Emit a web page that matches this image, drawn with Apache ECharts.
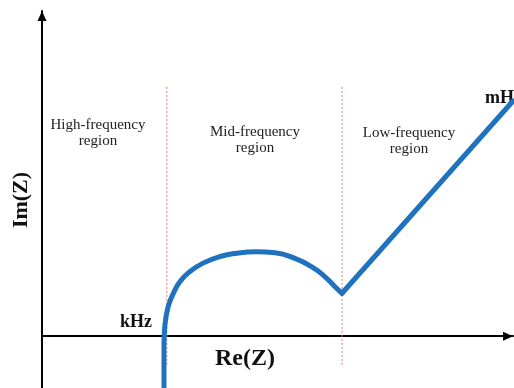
<!DOCTYPE html>
<html>
<head>
<meta charset="utf-8">
<script src="https://cdn.jsdelivr.net/npm/echarts@6/dist/echarts.min.js"></script>
<style>
  html, body { margin: 0; padding: 0; background: #fff; }
  #chart { width: 514px; height: 388px; }
</style>
</head>
<body>
<div id="chart"></div>
<script>
// Nyquist sketch: inductive tail, charge-transfer arc, diffusion line
const arcRe = [25.9, 25.9, 26.1, 26.8, 27.9, 29.3, 31.4, 34.2, 37.8, 41.3, 45.6, 49.5, 53.7, 57.3, 60.1, 62.2, 63.7];
const arcIm = [-11, -2, 2.4, 6.3, 9.1, 11.6, 13.7, 15.5, 16.9, 17.6, 17.9, 17.7, 16.5, 14.7, 12.6, 10.5, 9.1];
const tailRe = [63.7, 100];
const tailIm = [9.1, 49.9];
const boundaryRe = [26.5, 63.7];
const boundaryIm = [52.9, -6.5];
const regionNames = ['High-frequency\nregion', 'Mid-frequency\nregion', 'Low-frequency\nregion'];
const freqMarks = ['kHz', 'mHz'];
const axisNames = ['Re(Z)', 'Im(Z)'];

const pair = (xs, ys) => xs.map((x, i) => [x, ys[i]]);

const curveColor = '#1e72be';
const serif = '"Liberation Serif", "DejaVu Serif", serif';

const boundarySeries = boundaryRe.map(x => ({
  type: 'line',
  data: [[x, boundaryIm[0]], [x, boundaryIm[1]]],
  showSymbol: false,
  silent: true,
  lineStyle: { color: '#ee7575', width: 1, type: [2, 2] },
  z: 1
}));

const chart = echarts.init(document.getElementById('chart'));
chart.setOption({
  animation: false,
  backgroundColor: '#fff',
  grid: { left: 42, right: 1, top: 11, bottom: 0 },
  xAxis: {
    type: 'value', min: 0, max: 100,
    axisLine: {
      onZero: true,
      symbol: ['none', 'triangle'], symbolSize: [9, 10], symbolOffset: [0, -5],
      lineStyle: { color: '#000', width: 2 }
    },
    axisTick: { show: false }, axisLabel: { show: false }, splitLine: { show: false }
  },
  yAxis: {
    type: 'value', min: -11, max: 69,
    axisLine: {
      show: true,
      symbol: ['none', 'triangle'], symbolSize: [9, 10], symbolOffset: [0, -5],
      lineStyle: { color: '#000', width: 2 }
    },
    axisTick: { show: false }, axisLabel: { show: false }, splitLine: { show: false }
  },
  series: [
    ...boundarySeries,
    {
      type: 'line',
      data: pair(arcRe, arcIm),
      smooth: 0.5,
      showSymbol: false,
      lineStyle: { color: curveColor, width: 5, cap: 'round' },
      z: 3
    },
    {
      type: 'line',
      data: pair(tailRe, tailIm),
      showSymbol: false,
      lineStyle: { color: curveColor, width: 5, cap: 'round' },
      z: 3
    }
  ],
  graphic: [
    { type: 'text', x: 98, y: 133, style: { text: regionNames[0], font: '15px ' + serif, fill: '#222', align: 'center', verticalAlign: 'middle', lineHeight: 16 } },
    { type: 'text', x: 255, y: 140, style: { text: regionNames[1], font: '15px ' + serif, fill: '#222', align: 'center', verticalAlign: 'middle', lineHeight: 16 } },
    { type: 'text', x: 409, y: 141, style: { text: regionNames[2], font: '15px ' + serif, fill: '#222', align: 'center', verticalAlign: 'middle', lineHeight: 16 } },
    { type: 'text', x: 120, y: 322, style: { text: freqMarks[0], font: 'bold 18px ' + serif, fill: '#111', align: 'left', verticalAlign: 'middle' } },
    { type: 'text', x: 485, y: 98, style: { text: freqMarks[1], font: 'bold 18px ' + serif, fill: '#111', align: 'left', verticalAlign: 'middle' } },
    { type: 'text', x: 245, y: 359, style: { text: axisNames[0], font: 'bold 24px ' + serif, fill: '#111', align: 'center', verticalAlign: 'middle' } },
    { type: 'text', x: 21, y: 200, rotation: Math.PI / 2, style: { text: axisNames[1], font: 'bold 22px ' + serif, fill: '#111', align: 'center', verticalAlign: 'middle' } }
  ]
});
</script>
</body>
</html>
